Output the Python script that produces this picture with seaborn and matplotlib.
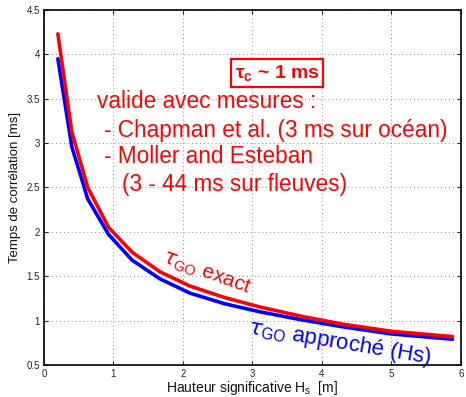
import numpy as np
import pandas as pd
import matplotlib
matplotlib.use("Agg")
import matplotlib.pyplot as plt
import seaborn as sns

hs = [0.2, 0.4, 0.63, 0.93, 1.27, 1.67, 2.1, 2.6, 3.1, 3.7, 4.3, 5.0, 5.88]
tau_exact = [4.23, 3.13, 2.50, 2.05, 1.77, 1.55, 1.39, 1.26, 1.155, 1.05, 0.96, 0.88, 0.82]
tau_approx = [3.95, 2.96, 2.37, 1.97, 1.68, 1.47, 1.31, 1.19, 1.10, 1.01, 0.93, 0.85, 0.79]
xticks = [0, 1, 2, 3, 4, 5, 6]
yticks = [0.5, 1, 1.5, 2, 2.5, 3, 3.5, 4, 4.5]

sns.set_style("white")
plt.rcParams['font.family'] = ['Liberation Sans', 'DejaVu Sans']
plt.rcParams['mathtext.fontset'] = 'custom'
plt.rcParams['mathtext.rm'] = 'Liberation Sans'
plt.rcParams['mathtext.bf'] = 'Liberation Sans:bold'

df = pd.DataFrame({"hs": hs + hs,
                   "tau": tau_exact + tau_approx,
                   "serie": ["exact"] * len(hs) + ["approx"] * len(hs)})

fig = plt.figure(figsize=(4.66, 3.97), dpi=100)
ax = fig.add_axes([0.0944, 0.0806, 0.8946, 0.8944])
sns.lineplot(data=df, x="hs", y="tau", hue="serie", hue_order=["approx", "exact"],
             palette={"exact": "#ff0000", "approx": "#0000ff"}, linewidth=2.6,
             legend=False, ax=ax, sort=False)
ax.set_xlim(0, 6)
ax.set_ylim(0.5, 4.5)
ax.set_xticks(xticks)
ax.set_yticks(yticks)
ax.set_xticklabels([str(t) for t in xticks])
ax.set_yticklabels([f"{t:g}" for t in yticks])
ax.tick_params(direction="in", length=3, labelsize=7, width=0.8, top=True, right=True,
               bottom=True, left=True, pad=3, labelcolor="#222222")
ax.grid(True, linestyle=(0, (1, 3)), color="#888888", linewidth=0.7)
for s in ax.spines.values():
    s.set_color("black")
    s.set_linewidth(1.2)
ax.set_xlabel(r"Hauteur significative H$_{\mathrm{s}}$  [m]", fontsize=10, labelpad=0,
              color="#111111")
ax.set_ylabel("Temps de corrélation [ms]", fontsize=9.5, labelpad=4, color="#111111")

red = "#ff0000"
fig.text(277 / 466, 1 - 73 / 397, r"$\mathbf{\tau_c}$ ~ 1 ms", color=red,
         fontsize=14, fontweight="bold", ha="center", va="center",
         bbox=dict(boxstyle="square,pad=0.2", fc="white", ec=red, lw=1.6))
fs = 16.3
fig.text(97 / 466, 1 - 102 / 397, "valide avec mesures :", color=red, fontsize=fs,
         ha="left", va="center")
fig.text(104 / 466, 1 - 130 / 397, "- Chapman et al. (3 ms sur océan)", color=red,
         fontsize=fs, ha="left", va="center")
fig.text(104 / 466, 1 - 157 / 397, "- Moller and Esteban", color=red,
         fontsize=fs, ha="left", va="center")
fig.text(122 / 466, 1 - 185 / 397, "(3 - 44 ms sur fleuves)", color=red,
         fontsize=fs, ha="left", va="center")

fig.text(207 / 466, 1 - 273 / 397, r"$\tau_{\mathrm{GO}}$ exact", color=red, fontsize=15,
         ha="center", va="center", rotation=-20)
fig.text(340 / 466, 1 - 343 / 397, r"$\tau_{\mathrm{GO}}$ approché (Hs)", color="#0000ff",
         fontsize=16, ha="center", va="center", rotation=-9.5)

fig.savefig("out.png", dpi=100)
